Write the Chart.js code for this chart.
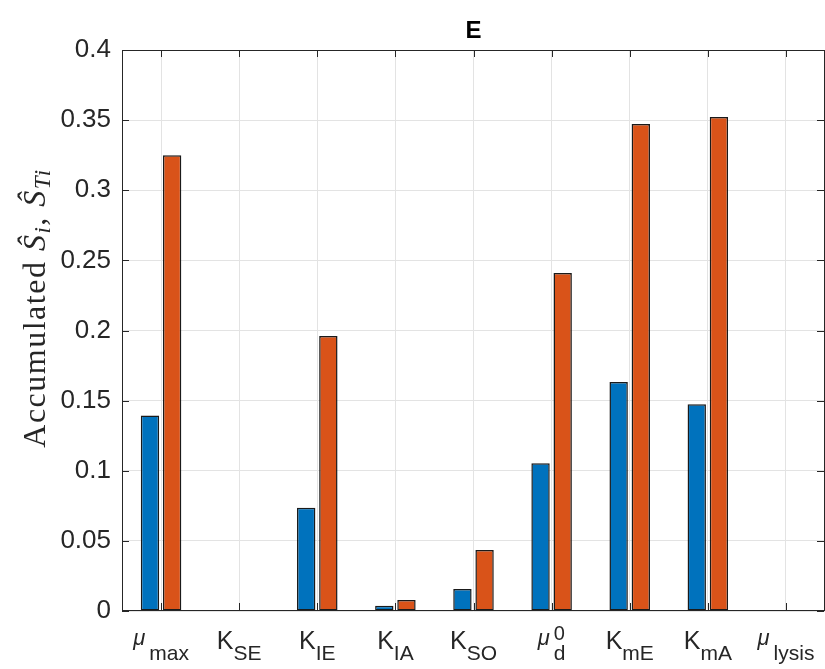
<!DOCTYPE html>
<html><head><meta charset="utf-8">
<script src="https://cdn.jsdelivr.net/npm/chart.js@4"></script>
<style>html,body{margin:0;padding:0;background:#fff}#wrap{width:825px;height:669px}</style>
</head><body><div id="wrap"><canvas id="c" width="825" height="669"></canvas></div>
<script>
// ---- data ----
const categories = ['mu_max','K_SE','K_IE','K_IA','K_SO','mu_d^0','K_mE','K_mA','mu_lysis'];
const labelBase = ['μ','K','K','K','K','μ','K','K','μ'];
const labelSub  = ['max','SE','IE','IA','SO','d','mE','mA','lysis'];
const labelSup  = ['','','','','','0','','',''];
const firstOrder = [0.1394,0.0005,0.0737,0.0038,0.0157,0.1054,0.1632,0.1475,0.0002];
const totalOrder = [0.3250,0.0005,0.1960,0.0078,0.0435,0.2410,0.3473,0.3523,0.0002];
const yTicks = [0,0.05,0.1,0.15,0.2,0.25,0.3,0.35,0.4];
const yTickLabels = ['0','0.05','0.1','0.15','0.2','0.25','0.3','0.35','0.4'];
const titleText = 'E';

const AX = '#262626';
const sans = "'Liberation Sans', Arial, sans-serif";
const serif = "'Liberation Serif', 'Times New Roman', serif";

const decor = {
  id: 'decor',
  afterDraw(chart) {
    const ctx = chart.ctx, a = chart.chartArea, xs = chart.scales.x, ys = chart.scales.y;
    ctx.save();
    // box
    ctx.strokeStyle = AX; ctx.lineWidth = 1;
    ctx.strokeRect(Math.round(a.left)+0.5, Math.round(a.top)+0.5, Math.round(a.right-a.left)-1, Math.round(a.bottom-a.top)-1);
    // inner ticks
    const L = 7;
    ctx.beginPath();
    ys.ticks.forEach((t,i) => {
      const y = Math.round(ys.getPixelForValue(t.value))+0.5;
      ctx.moveTo(a.left, y); ctx.lineTo(a.left+L, y);
      ctx.moveTo(a.right-1, y); ctx.lineTo(a.right-1-L, y);
    });
    categories.forEach((c,i) => {
      const x = Math.round(xs.getPixelForValue(i))+0.5;
      ctx.moveTo(x, a.top); ctx.lineTo(x, a.top+L);
      ctx.moveTo(x, a.bottom-1); ctx.lineTo(x, a.bottom-1-L);
    });
    ctx.stroke();
    // x labels with sub/superscripts
    ctx.fillStyle = AX; ctx.textBaseline = 'alphabetic'; ctx.textAlign = 'left';
    const fBase = "25px " + sans, fMu = "italic 22px " + sans, fSub = "21px " + sans, fSup = "20px " + sans;
    categories.forEach((c,i) => {
      const x = xs.getPixelForValue(i);
      const isMu = labelBase[i] === 'μ';
      ctx.font = isMu ? fMu : fBase;
      const wb = ctx.measureText(labelBase[i]).width;
      const gap = isMu ? 4 : 0;
      ctx.font = fSub; const wsub = ctx.measureText(labelSub[i]).width;
      ctx.font = fSup; const wsup = labelSup[i] ? ctx.measureText(labelSup[i]).width : 0;
      const total = wb + gap + Math.max(wsub, wsup);
      let sx = x - total/2;
      ctx.font = isMu ? fMu : fBase;
      ctx.fillText(labelBase[i], sx, isMu ? 645 : 649);
      ctx.font = fSub; ctx.fillText(labelSub[i], sx + wb + gap, 660);
      if (labelSup[i]) { ctx.font = fSup; ctx.fillText(labelSup[i], sx + wb + gap, 640); }
    });
    // y axis title
    ctx.save();
    ctx.translate(45, 308);
    ctx.rotate(-Math.PI/2);
    try { ctx.letterSpacing = '1.5px'; } catch(e) {}
    const pieces = [
      {t:'Accumulated ', f:"32px " + serif, dy:0},
      {t:'Ŝ', f:"italic 32px " + serif, dy:0},
      {t:'i', f:"italic 23px " + serif, dy:5},
      {t:', ', f:"32px " + serif, dy:0},
      {t:'Ŝ', f:"italic 32px " + serif, dy:0},
      {t:'Ti', f:"italic 23px " + serif, dy:5}
    ];
    let tw = 0;
    pieces.forEach(p => { ctx.font = p.f; p.w = ctx.measureText(p.t).width; tw += p.w; });
    let px = -tw/2;
    pieces.forEach(p => { ctx.font = p.f; ctx.fillText(p.t, px, p.dy); px += p.w; });
    ctx.restore();
    // title
    ctx.font = "bold 24px " + sans; ctx.textAlign = 'center'; ctx.fillStyle = '#000';
    ctx.fillText(titleText, (a.left + a.right)/2, 38);
    ctx.restore();
  }
};

new Chart(document.getElementById('c'), {
  type: 'bar',
  data: {
    labels: categories,
    datasets: [
      {label:'First order', data:firstOrder, backgroundColor:'#0072BD', borderColor:'#1a1a1a', borderWidth:1.5, borderSkipped:false, categoryPercentage:0.567, barPercentage:0.83},
      {label:'Total order', data:totalOrder, backgroundColor:'#D95319', borderColor:'#1a1a1a', borderWidth:1.5, borderSkipped:false, categoryPercentage:0.567, barPercentage:0.83}
    ]
  },
  options: {
    responsive:false, animation:false, devicePixelRatio:1,
    layout:{padding:{top:50, right:0, left:0, bottom:0}},
    plugins:{legend:{display:false}, title:{display:false}, tooltip:{enabled:false}},
    scales:{
      x:{
        offset:true,
        grid:{offset:false, color:'#e3e3e3', drawTicks:false},
        border:{display:false},
        ticks:{display:false},
        afterFit(s){ s.height = 58; }
      },
      y:{
        min:0, max:0.4,
        afterBuildTicks(s){ s.ticks = yTicks.map(v => ({value:v})); },
        ticks:{callback:(v,i) => yTickLabels[i], font:{family:"'Liberation Sans', Arial, sans-serif", size:26}, color:AX, padding:11},
        grid:{color:'#e3e3e3', drawTicks:false},
        border:{display:false},
        afterFit(s){ s.width = 122; }
      }
    }
  },
  plugins:[decor]
});
</script></body></html>
